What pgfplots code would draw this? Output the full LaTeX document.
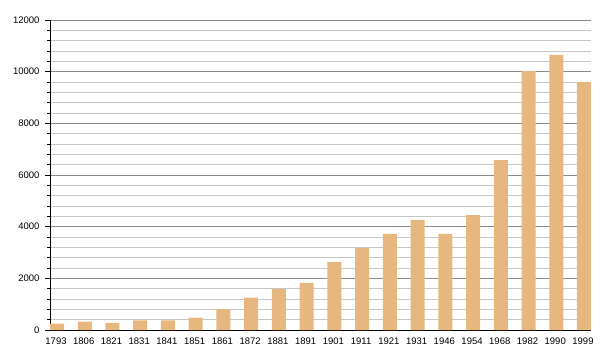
\documentclass[border=0pt]{standalone}
\usepackage{pgfplots}
\pgfplotsset{compat=1.18}
\usepackage{fontspec}
\setmainfont{Liberation Sans}
\definecolor{barc}{HTML}{E6B880}
\begin{document}
\begin{tikzpicture}[x=1pt,y=1pt]
\useasboundingbox (0,0) rectangle (600,360);
\begin{axis}[
  at={(50pt,30pt)}, anchor=south west,
  scale only axis, width=541pt, height=310pt,
  xmin=-0.253, xmax=19.253, ymin=0, ymax=12000,
  axis x line=bottom, axis y line=left,
  axis line style={-, black, line width=0.8pt},
  xtick={0,...,19},
  xticklabels={1793,1806,1821,1831,1841,1851,1861,1872,1881,1891,1901,1911,1921,1931,1946,1954,1968,1982,1990,1999},
  x tick label style={font=\fontsize{9.5}{10}\selectfont, yshift=1pt, xshift=-1pt},
  major x tick style={draw=none},
  ytick={0,2000,...,12000},
  minor ytick={400,800,...,11600},
  y tick label style={font=\fontsize{9.5}{10}\selectfont, xshift=-2pt},
  /pgf/number format/assume math mode=true,
  scaled y ticks=false,
  yticklabel={\pgfmathprintnumber[fixed,set thousands separator={}]{\tick}},
  ymajorgrids, yminorgrids,
  major grid style={draw=black!45, line width=0.6pt},
  minor grid style={draw=black!22, line width=0.6pt},
  tick align=outside,
  major tick length=5pt, minor tick length=2.5pt,
  tick style={black, line width=0.6pt},
  clip=false,
]
\addplot[ybar, bar width=14pt, fill=barc, draw=none] coordinates {
(0,250) (1,320) (2,280) (3,370) (4,370) (5,480) (6,813) (7,1250) (8,1590) (9,1820)
(10,2630) (11,3170) (12,3720) (13,4260) (14,3720) (15,4450) (16,6580) (17,10030) (18,10650) (19,9600)
};
\end{axis}
\end{tikzpicture}
\end{document}
